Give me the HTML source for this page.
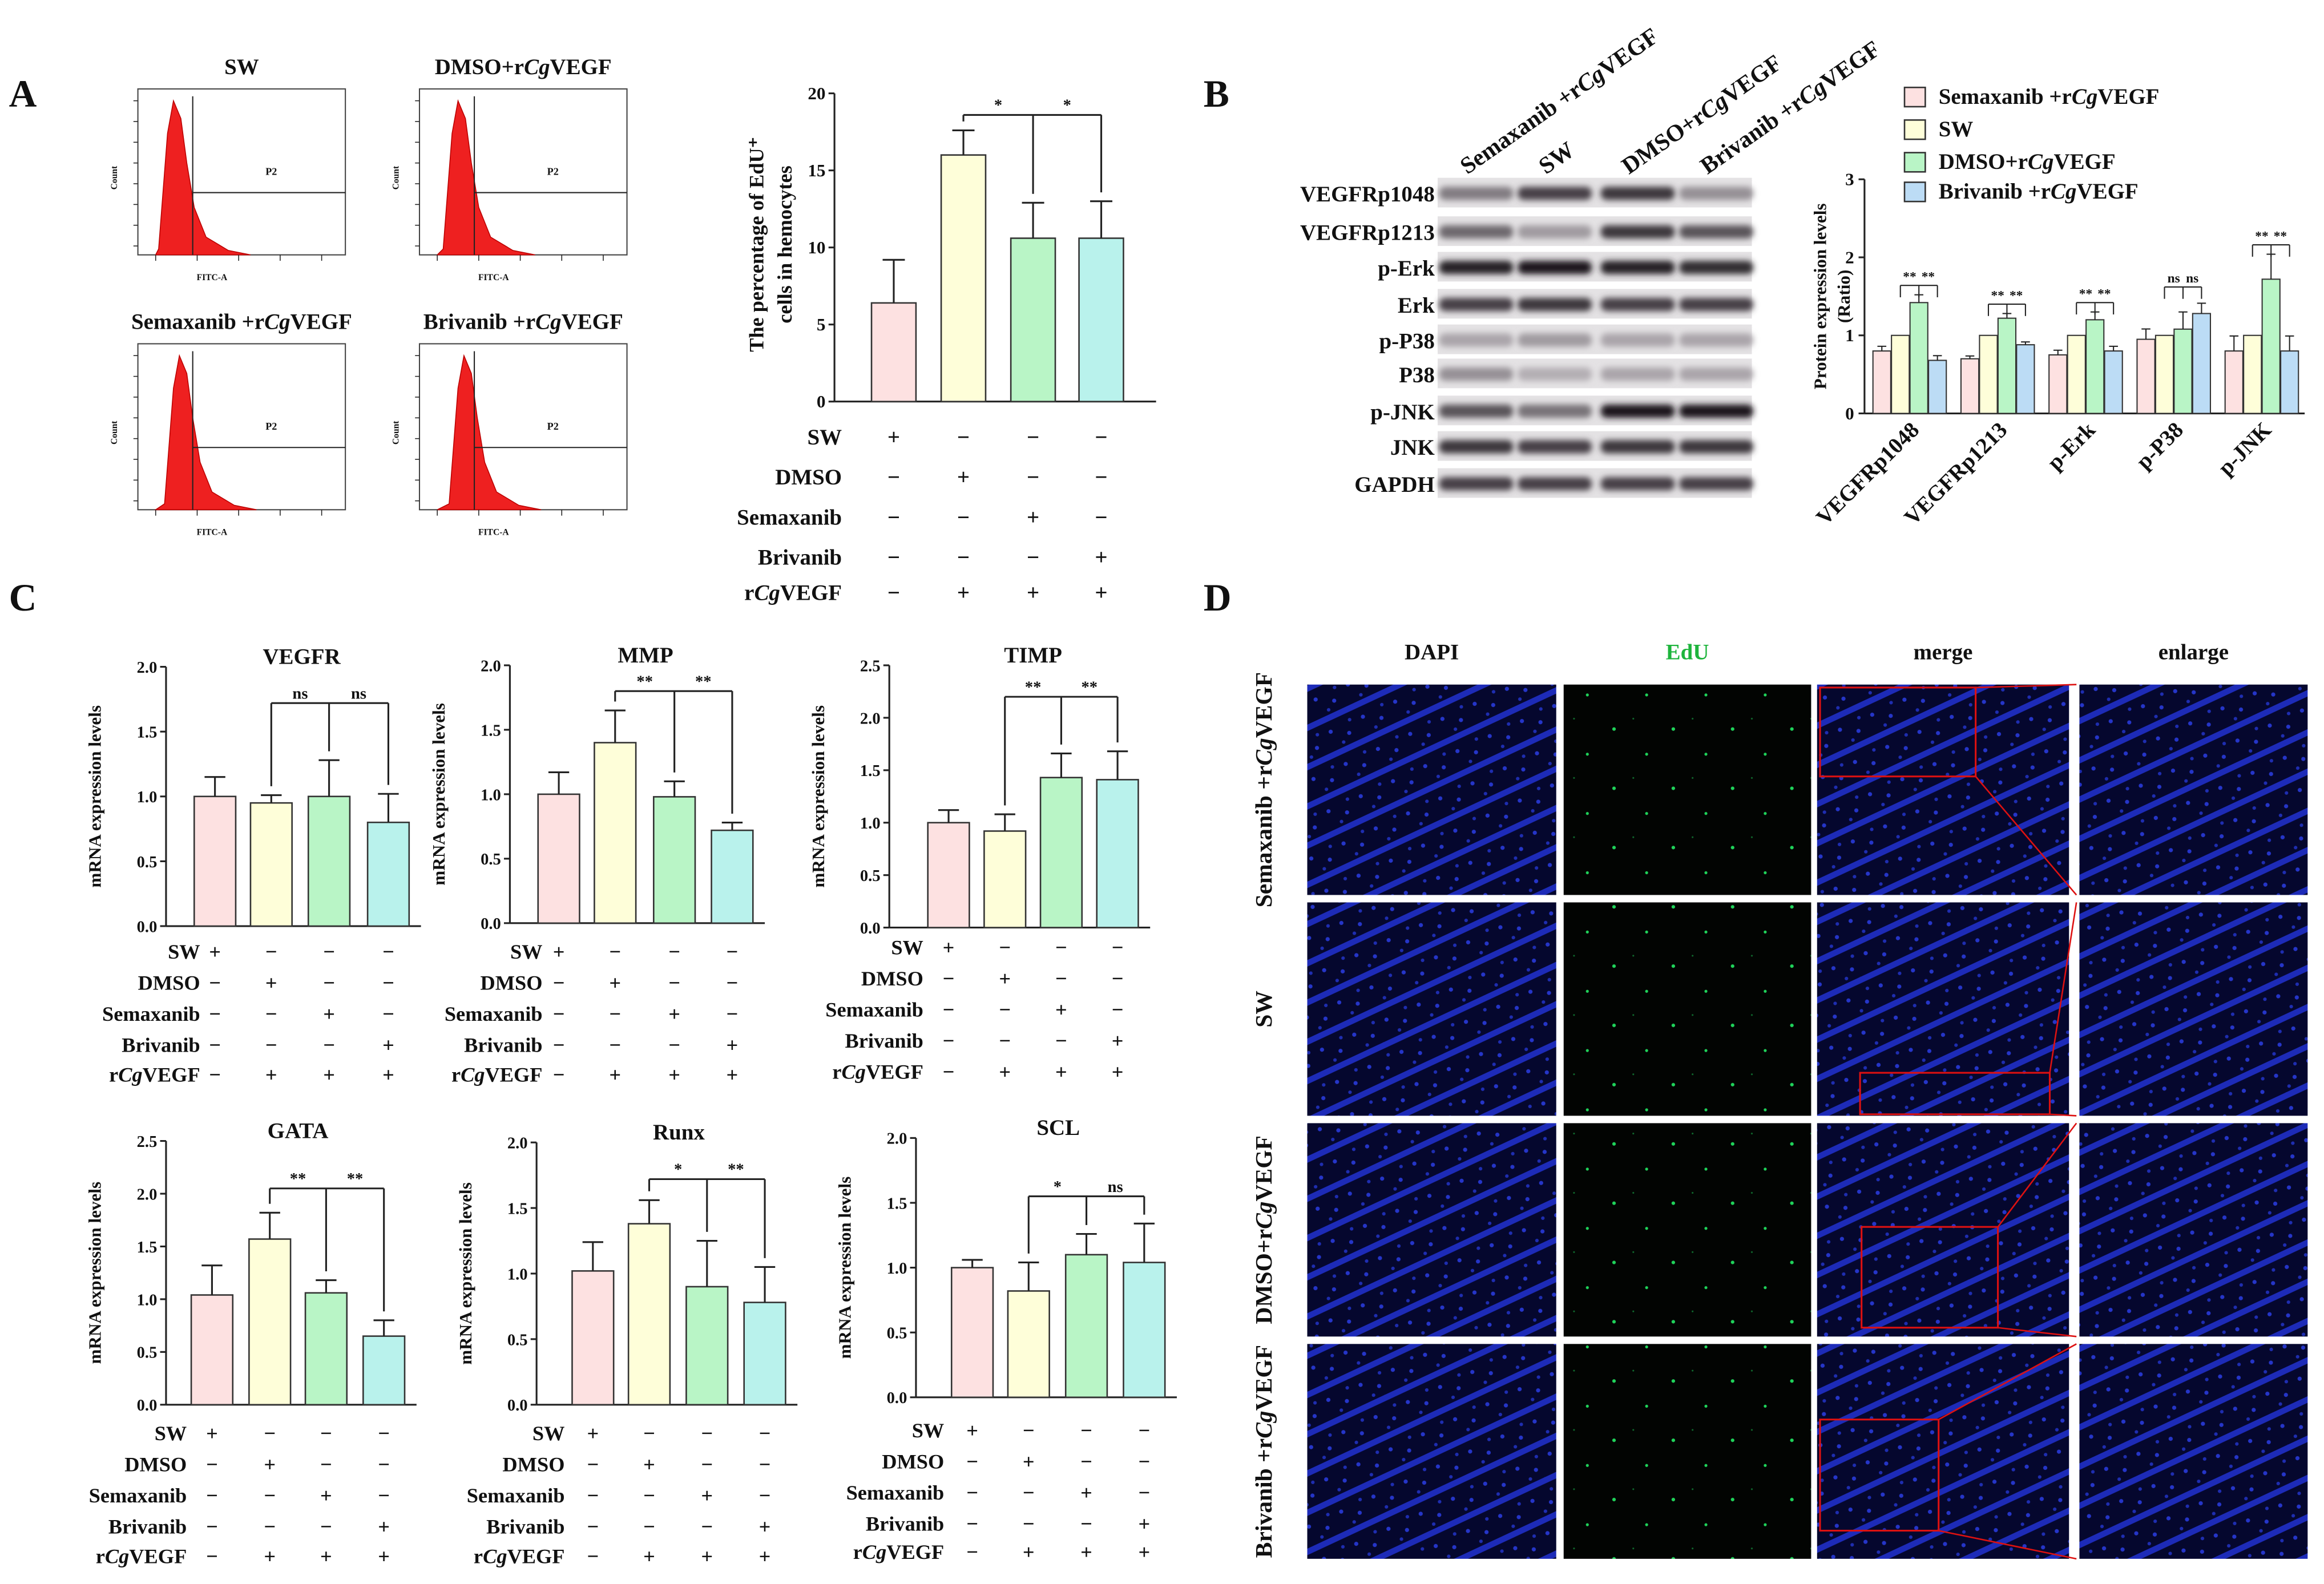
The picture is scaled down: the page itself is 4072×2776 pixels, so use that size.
<!DOCTYPE html>
<html><head><meta charset="utf-8"><style>
html,body{margin:0;padding:0;background:#fff}
svg{display:block}
text{font-family:"Liberation Serif",serif;font-weight:bold;fill:#111}
</style></head><body>
<svg id="fig" xmlns="http://www.w3.org/2000/svg" width="4072" height="2776" viewBox="0 0 1568 1069">
<defs>
<filter id="blur" x="-20%" y="-50%" width="140%" height="200%"><feGaussianBlur stdDeviation="2"/></filter>
<pattern id="tissue" width="24" height="24" patternUnits="userSpaceOnUse" patternTransform="rotate(-25)">
<rect width="24" height="24" fill="#05072e"/>
<rect y="0" width="24" height="4" fill="#1d2bb8"/>
<circle cx="5" cy="11" r="1.4" fill="#2535c8"/><circle cx="16" cy="17" r="1.4" fill="#2535c8"/>
<circle cx="10" cy="21" r="1.2" fill="#1e2db0"/><circle cx="20" cy="9" r="1.2" fill="#1e2db0"/>
</pattern>
<pattern id="edu" width="40" height="40" patternUnits="userSpaceOnUse">
<rect width="40" height="40" fill="#020402"/>
<circle cx="9" cy="12" r="1.2" fill="#1fd35a"/><circle cx="31" cy="29" r="1" fill="#1fd35a"/>
<circle cx="22" cy="5" r="0.6" fill="#0f6a2d"/>
</pattern>
</defs>
</svg>
<script>
const svg=document.getElementById('fig');
const NS='http://www.w3.org/2000/svg';
function add(tag,attrs,name,parent){
  const el=document.createElementNS(NS,tag);
  for(const k in attrs) el.setAttribute(k,attrs[k]);
  
  
  (parent||svg).appendChild(el);return el;
}
function txt(x,y,s,size,name,anchor,extra){
  const t=add('text',Object.assign({x:x,y:y,'font-size':size,'text-anchor':anchor||'middle'},extra||{}),name);
  t.textContent=s;return t;
}
function cgText(x,y,size,name,anchor,prefix,suffix){
  const t=add('text',{x:x,y:y,'font-size':size,'text-anchor':anchor||'middle'},name);
  const a=document.createElementNS(NS,'tspan');a.textContent=(prefix||'')+'r';t.appendChild(a);
  const b=document.createElementNS(NS,'tspan');b.setAttribute('font-style','italic');b.textContent='Cg';t.appendChild(b);
  const c=document.createElementNS(NS,'tspan');c.textContent='VEGF'+(suffix||'');t.appendChild(c);
  return t;
}
function line(x1,y1,x2,y2,name,w){return add('line',{x1:x1,y1:y1,x2:x2,y2:y2,stroke:'#222','stroke-width':w||1.2},name);}

// ===== DATA =====
const groupLabels=['SW','DMSO','Semaxanib','Brivanib','rCgVEGF'];
const signs=[['+','−','−','−'],['−','+','−','−'],['−','−','+','−'],['−','−','−','+'],['−','+','+','+']];
const fillColors=['#fde1e1','#fefed9','#b9f5c6','#b9f2ec'];
const eduValues=[6.4,16.0,10.6,10.6];
const eduErrors=[2.8,1.6,2.3,2.4];
const eduTicks=[0,5,10,15,20];
const wbRows=['VEGFRp1048','VEGFRp1213','p-Erk','Erk','p-P38','P38','p-JNK','JNK','GAPDH'];
const wbLanes=['Semaxanib +rCgVEGF','SW','DMSO+rCgVEGF','Brivanib +rCgVEGF'];
const protCats=['VEGFRp1048','VEGFRp1213','p-Erk','p-P38','p-JNK'];
const protSema=[0.80,0.70,0.75,0.95,0.80];
const protSW=[1.0,1.0,1.0,1.0,1.0];
const protDMSO=[1.42,1.22,1.20,1.08,1.72];
const protBriv=[0.68,0.88,0.80,1.28,0.80];
const protErr=[0.10,0.06,0.10,0.22,0.32];
const protTicks=[0,1,2,3];
const mrnaNames=['VEGFR','MMP','TIMP','GATA','Runx','SCL'];
const mrnaVEGFR=[1.0,0.95,1.0,0.80];
const mrnaMMP=[1.0,1.40,0.98,0.72];
const mrnaTIMP=[1.0,0.92,1.43,1.41];
const mrnaGATA=[1.04,1.57,1.06,0.65];
const mrnaRunx=[1.02,1.38,0.90,0.78];
const mrnaSCL=[1.0,0.82,1.10,1.04];
const errVEGFR=[0.15,0.06,0.28,0.22];
const errMMP=[0.17,0.25,0.12,0.06];
const errTIMP=[0.12,0.16,0.23,0.27];
const errGATA=[0.28,0.25,0.12,0.15];
const errRunx=[0.22,0.18,0.35,0.27];
const errSCL=[0.06,0.22,0.16,0.30];
const ticks2=[0,0.5,1.0,1.5,2.0];
const ticks25=[0,0.5,1.0,1.5,2.0,2.5];

// ===== Panel letters =====
txt(6,72,'A',26,'panel-label-a','start',{'font-family':'Liberation Sans'});
txt(812,72,'B',26,'panel-label-b','start',{'font-family':'Liberation Sans'});
txt(6,412,'C',26,'panel-label-c','start',{'font-family':'Liberation Sans'});
txt(812,412,'D',26,'panel-label-d','start',{'font-family':'Liberation Sans'});

// ===== Flow histograms =====
const flows=[{x:93,y:60,t:'SW'},{x:283,y:60,t:'DMSO+rCgVEGF'},{x:93,y:232,t:'Semaxanib +rCgVEGF'},{x:283,y:232,t:'Brivanib +rCgVEGF'}];
flows.forEach((f,i)=>{
  const w=140,h=112;
  if(f.t==='SW') txt(f.x+w/2,f.y-10,'SW',15,'flow-title');
  else{const parts=f.t.split('rCgVEGF');cgText(f.x+w/2,f.y-10,15,'flow-title','middle',parts[0]);}
  add('rect',{x:f.x,y:f.y,width:w,height:h,fill:'none',stroke:'#444','stroke-width':0.8},'flow-plot-frame');
  const px=f.x+26+i*2;
  add('path',{d:`M${f.x+12},${f.y+h} L${px-12},${f.y+h-4} L${px-6},${f.y+30} L${px-2},${f.y+8} L${px+3},${f.y+20} L${px+7},${f.y+50} L${px+12},${f.y+80} L${px+20},${f.y+100} L${px+35},${f.y+h-3} L${px+50},${f.y+h} Z`,fill:'#ee2020',stroke:'#b00','stroke-width':0.6},'flow-histogram');
  line(f.x+37,f.y+5,f.x+37,f.y+h,'gate-line',0.8);
  line(f.x+37,f.y+70,f.x+w,f.y+70,'gate-line',0.8);
  txt(f.x+90,f.y+58,'P2',7,'gate-label','middle',{'font-family':'Liberation Sans','font-weight':'normal'});
  txt(f.x-14,f.y+60,'Count',6,'flow-y-label','middle',{transform:`rotate(-90 ${f.x-14} ${f.y+60})`,'font-family':'Liberation Sans','font-weight':'normal'});
  txt(f.x+50,f.y+h+17,'FITC-A',6,'flow-x-label','middle',{'font-family':'Liberation Sans','font-weight':'normal'});
  for(let k=0;k<5;k++){line(f.x+12+k*28,f.y+h,f.x+12+k*28,f.y+h+4,'flow-tick',0.6);}
  for(let k=0;k<8;k++){line(f.x-3,f.y+8+k*14,f.x,f.y+8+k*14,'flow-tick',0.6);}
});

// ===== generic bar chart =====
function barChart(o){
  const ys=v=>o.y0-(v-o.min)/(o.max-o.min)*(o.y0-o.y1);
  line(o.ax,o.y1,o.ax,o.y0,o.name+'-y-axis');
  line(o.ax,o.y0,o.ax2,o.y0,o.name+'-x-axis');
  o.ticks.forEach(t=>{line(o.ax-4,ys(t),o.ax,ys(t),o.name+'-y-tick');
    txt(o.ax-6,ys(t)+4,o.fmt(t),o.tsz||11,o.name+'-y-tick-label','end');});
  o.vals.forEach((v,i)=>{
    const cx=o.cx[i],bw=o.bw;
    const b=add('rect',{x:cx-bw/2,y:ys(v),width:bw,height:o.y0-ys(v),fill:o.colors[i],stroke:'#333','stroke-width':1},'bar');
    
    line(cx,ys(v),cx,ys(v+o.err[i]),'error-bar');
    line(cx-bw/4,ys(v+o.err[i]),cx+bw/4,ys(v+o.err[i]),'error-cap');
  });
  return ys;
}
function bracket(ys,cx,vals,err,from,to1,to2,yv,l1,l2,name){
  const yy=ys(yv);
  line(cx[from],yy,cx[to2],yy,name+'-bracket');
  line(cx[from],yy,cx[from],ys(vals[from]+err[from])-6,name+'-bracket');
  line(cx[to1],yy,cx[to1],ys(vals[to1]+err[to1])-6,name+'-bracket');
  line(cx[to2],yy,cx[to2],ys(vals[to2]+err[to2])-6,name+'-bracket');
  txt((cx[from]+cx[to1])/2,yy-3,l1,11,name+'-sig');
  txt((cx[to1]+cx[to2])/2,yy-3,l2,11,name+'-sig');
}
function signTable(labX,cx,rowY,name,sz){
  rowY.forEach((y,r)=>{
    if(r===4) cgText(labX,y,sz||14,name+'-row-label','end');
    else txt(labX,y,groupLabels[r],sz||14,name+'-row-label','end');
    signs[r].forEach((s,c)=>txt(cx[c],y,s,sz||14,name+'-sign'));
  });
}

// ===== A bar chart =====
const aCx=[603,650,697,743];
const ysA=barChart({name:'edu',ax:563,ax2:780,y0:271,y1:63,min:0,max:20,ticks:eduTicks,fmt:t=>String(t),vals:eduValues,err:eduErrors,cx:aCx,bw:30,colors:fillColors,tsz:12});
bracket(ysA,aCx,eduValues,eduErrors,1,2,3,18.6,'*','*','edu');
txt(515,165,'The percentage of EdU⁺',14,'edu-y-title','middle',{transform:'rotate(-90 515 165)'});
txt(534,165,'cells in hemocytes',14,'edu-y-title','middle',{transform:'rotate(-90 534 165)'});
signTable(568,aCx,[300,327,354,381,405],'edu-table',15);

// ===== B western blot =====
const laneX=[995,1048,1104,1157];
wbLanes.forEach((l,i)=>{
  const x=laneX[i]-5,y=118;
  const parts=l.split('rCgVEGF');
  if(l==='SW') txt(x,y,'SW',16,'lane-label','start',{transform:`rotate(-35 ${x} ${y})`});
  else cgText(x,y,16,'lane-label','start',parts[0]);
  svg.lastChild.setAttribute('transform',`rotate(-35 ${x} ${y})`);
  if(l!=='SW') svg.lastChild.setAttribute('text-anchor','start');
});
const wbY=[131,157,181,206,230,253,278,302,327];
const wbInt=[[0.5,0.8,0.85,0.4],[0.6,0.35,0.85,0.7],[0.95,1,0.95,0.9],[0.8,0.85,0.8,0.8],[0.3,0.35,0.3,0.3],[0.4,0.25,0.3,0.3],[0.7,0.55,1,1],[0.85,0.8,0.85,0.85],[0.8,0.8,0.8,0.8]];
wbRows.forEach((r,i)=>{
  const y=wbY[i];
  add('rect',{x:970,y:y-11,width:212,height:20,fill:'#e4e2e4'},'blot-strip');
  wbInt[i].forEach((v,j)=>{
    const g=Math.round(230-200*v);
    add('rect',{x:laneX[j]-24,y:y-5,width:50,height:9,rx:4,fill:`rgb(${g},${g-5},${g})`,filter:'url(#blur)'},'blot-band');
  });
  txt(968,y+5,r,15,'blot-row-label','end');
});

// ===== B protein chart =====
const bX0=1258,bX1=1555,bY0=279,bY1=121;
const ysB=v=>bY0-v/3*(bY0-bY1);
line(bX0,bY1,bX0,bY0,'protein-y-axis');line(bX0,bY0,bX1,bY0,'protein-x-axis');
protTicks.forEach(t=>{line(bX0-4,ysB(t),bX0,ysB(t),'protein-y-tick');txt(bX0-7,ysB(t)+4,String(t),12,'protein-y-tick-label','end');});
txt(1232,200,'Protein expression levels',12,'protein-y-title','middle',{transform:'rotate(-90 1232 200)'});
txt(1248,200,'(Ratio)',12,'protein-y-title','middle',{transform:'rotate(-90 1248 200)'});
const protSeries=[protSema,protSW,protDMSO,protBriv];
const protColors=['#fde1e1','#fefed9','#b9f5c6','#bcdcf5'];
const gw=(bX1-bX0)/protCats.length;
protCats.forEach((c,g)=>{
  const gx=bX0+gw*g+gw/2;
  const cxs=[];
  protSeries.forEach((s,k)=>{
    const cx=gx-18+k*12.5;cxs.push(cx);
    const b=add('rect',{x:cx-6,y:ysB(s[g]),width:12,height:bY0-ysB(s[g]),fill:protColors[k],stroke:'#333','stroke-width':0.8},'protein-bar');
    
    const e=k===1?0:protErr[g]*(k===2?1:0.6);
    if(e>0){line(cx,ysB(s[g]),cx,ysB(s[g]+e),'protein-error',0.8);line(cx-3,ysB(s[g]+e),cx+3,ysB(s[g]+e),'protein-error',0.8);}
  });
  const top=Math.max(...protSeries.map(s=>s[g]))+protErr[g]+0.12;
  const yy=ysB(top);
  line(cxs[1],yy,cxs[3],yy,'protein-bracket',0.8);
  [1,2,3].forEach(k=>line(cxs[k],yy,cxs[k],yy+8,'protein-bracket',0.8));
  const lab=g===3?'ns':'**';
  txt((cxs[1]+cxs[2])/2,yy-3,lab,9,'protein-sig');txt((cxs[2]+cxs[3])/2,yy-3,lab,9,'protein-sig');
  txt(gx+8,bY0+12,c,15,'protein-x-label','end',{transform:`rotate(-45 ${gx+8} ${bY0+12})`});
});
const legY=[70,92,114,134];
['Semaxanib +rCgVEGF','SW','DMSO+rCgVEGF','Brivanib +rCgVEGF'].forEach((l,i)=>{
  add('rect',{x:1285,y:legY[i]-11,width:14,height:13,fill:protColors[i],stroke:'#333','stroke-width':1},'legend-swatch');
  if(l==='SW') txt(1308,legY[i],'SW',15,'legend-entry','start');
  else cgText(1308,legY[i],15,'legend-entry','start',l.split('rCgVEGF')[0]);
});

// ===== C mRNA charts =====
const mCharts=[
 {n:'VEGFR',v:mrnaVEGFR,e:errVEGFR,ax:112,y0:625,y1:450,max:2,t:ticks2,cx:[145,183,222,262],tab:[135,[647,668,689,710,730]],br:[1,1.72,'ns','ns']},
 {n:'MMP',v:mrnaMMP,e:errMMP,ax:344,y0:623,y1:449,max:2,t:ticks2,cx:[377,415,455,494],tab:[366,[647,668,689,710,730]],br:[1,1.8,'**','**']},
 {n:'TIMP',v:mrnaTIMP,e:errTIMP,ax:600,y0:626,y1:449,max:2.5,t:ticks25,cx:[640,678,716,754],tab:[623,[644,665,686,707,728]],br:[1,2.2,'**','**']},
 {n:'GATA',v:mrnaGATA,e:errGATA,ax:112,y0:948,y1:770,max:2.5,t:ticks25,cx:[143,182,220,259],tab:[126,[972,993,1014,1035,1055]],br:[1,2.05,'**','**']},
 {n:'Runx',v:mrnaRunx,e:errRunx,ax:362,y0:948,y1:771,max:2,t:ticks2,cx:[400,438,477,516],tab:[381,[972,993,1014,1035,1055]],br:[1,1.72,'*','**']},
 {n:'SCL',v:mrnaSCL,e:errSCL,ax:618,y0:943,y1:768,max:2,t:ticks2,cx:[656,694,733,772],tab:[637,[970,991,1012,1033,1052]],br:[1,1.55,'*','ns']}
];
mCharts.forEach(c=>{
  const ys=barChart({name:'mrna-'+c.n.toLowerCase(),ax:c.ax,ax2:c.cx[3]+22,y0:c.y0,y1:c.y1,min:0,max:c.max,ticks:c.t,fmt:t=>t.toFixed(1),vals:c.v,err:c.e,cx:c.cx,bw:28,colors:fillColors,tsz:11});
  txt((c.cx[0]+c.cx[3])/2,c.y1-2,c.n,15,'mrna-chart-title');
  const tx=c.ax-44,ty=(c.y0+c.y1)/2;
  txt(tx,ty,'mRNA expression levels',12,'mrna-y-title','middle',{transform:`rotate(-90 ${tx} ${ty})`});
  bracket(ys,c.cx,c.v,c.e,c.br[0],2,3,c.br[1],c.br[2],c.br[3],'mrna-'+c.n.toLowerCase());
  signTable(c.tab[0],c.cx,c.tab[1],'mrna-'+c.n.toLowerCase()+'-table',14);
});

// ===== D imaging =====
const colX=[882,1055,1226,1403],colW=[168,167,170,154];
const rowY=[462,609,758,907],rowH=[142,144,144,145];
const heads=['DAPI','EdU','merge','enlarge'];
heads.forEach((h,i)=>txt(colX[i]+colW[i]/2,445,h,15,'image-column-header','middle',{style:i===1?'fill:#1db43c':''}));
const rowLabs=['Semaxanib +rCgVEGF','SW','DMSO+rCgVEGF','Brivanib +rCgVEGF'];
rowY.forEach((y,r)=>{
  const cx=858,cy=y+rowH[r]/2;
  if(rowLabs[r]==='SW') txt(cx,cy,'SW',16,'image-row-label','middle',{transform:`rotate(-90 ${cx} ${cy})`});
  else{cgText(cx,cy,16,'image-row-label','middle',rowLabs[r].split('rCgVEGF')[0]);svg.lastChild.setAttribute('transform',`rotate(-90 ${cx} ${cy})`);}
  colX.forEach((x,c)=>{
    add('rect',{x:x,y:y,width:colW[c],height:rowH[r],fill:c===1?'url(#edu)':'url(#tissue)'},'micrograph');
  });
});
// merge boxes + connectors
[[1228,464,105,60],[1255,724,128,28],[1256,828,92,68],[1228,958,80,75]].forEach((b,i)=>{
  add('rect',{x:b[0],y:b[1],width:b[2],height:b[3],fill:'none',stroke:'#d11','stroke-width':1.2},'zoom-box');
  line(b[0]+b[2],b[1],1401,rowY[i],'zoom-connector',1);
  svg.lastChild.setAttribute('stroke','#d11');
  line(b[0]+b[2],b[1]+b[3],1401,rowY[i]+rowH[i],'zoom-connector',1);
  svg.lastChild.setAttribute('stroke','#d11');
});
</script>
</body></html>
